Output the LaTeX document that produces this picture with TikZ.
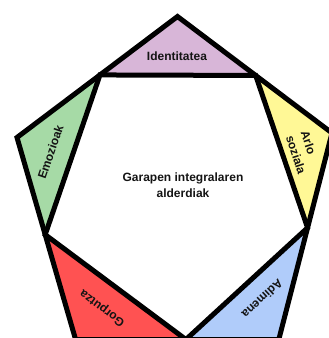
\documentclass[tikz,border=0pt]{standalone}
\usepackage{fontspec}
\setmainfont{Liberation Sans}
\usetikzlibrary{calc}
\definecolor{cpurple}{RGB}{216,182,216}
\definecolor{cgreen}{RGB}{166,218,166}
\definecolor{cyellow}{RGB}{255,248,150}
\definecolor{cblue}{RGB}{176,204,250}
\definecolor{cred}{RGB}{255,82,82}
\definecolor{ctext}{RGB}{20,20,20}
\begin{document}
\begin{tikzpicture}[x=1pt,y=-1pt,
  edge/.style={line width=5pt, line join=miter, draw=black},
  lbl/.style={font=\bfseries\fontsize{12}{15.5}\selectfont, text=ctext, inner sep=0pt}]
\useasboundingbox (0,0) rectangle (329,338);
\clip (0,0) rectangle (329,338);
% outer pentagon
\coordinate (T) at (177.5,16.5);
\coordinate (R) at (332,133);
\coordinate (BR) at (278.8,339.5);
\coordinate (BL) at (75.6,339.5);
\coordinate (L) at (17,137.5);
% inner pentagon (points on the outer edges)
\coordinate (A) at ($(T)!0.483!(L)$);
\coordinate (B) at ($(T)!0.506!(R)$);
\coordinate (C) at ($(R)!0.459!(BR)$);
\coordinate (D) at ($(BR)!0.457!(BL)$);
\coordinate (E) at ($(L)!0.481!(BL)$);
% coloured triangles
\fill[cpurple] (T) -- (B) -- (A) -- cycle;
\fill[cyellow] (B) -- (R) -- (C) -- cycle;
\fill[cblue] (C) -- (BR) -- (D) -- cycle;
\fill[cred] (D) -- (BL) -- (E) -- cycle;
\fill[cgreen] (E) -- (L) -- (A) -- cycle;
% outlines
\draw[edge] (T) -- (R) -- (BR) -- (BL) -- (L) -- cycle;
\draw[edge] (A) -- (B) -- (C) -- (D) -- (E) -- cycle;
% labels
\node[lbl] (id) at (177,56) {Identitatea};
\node[lbl, align=center] (gar) at (183,185) {Garapen integralaren\\alderdiak};
\node[lbl, rotate=71] (emo) at (50.5,152) {Emozioak};
\node[lbl, rotate=-72, align=left] (arlo) at (303.5,152.5) {Arlo\\soziala};
\node[lbl, rotate=143] (gor) at (102.5,308) {Gorputza};
\node[lbl, rotate=-137] (adi) at (262.5,299) {Adimena};
\end{tikzpicture}
\end{document}
